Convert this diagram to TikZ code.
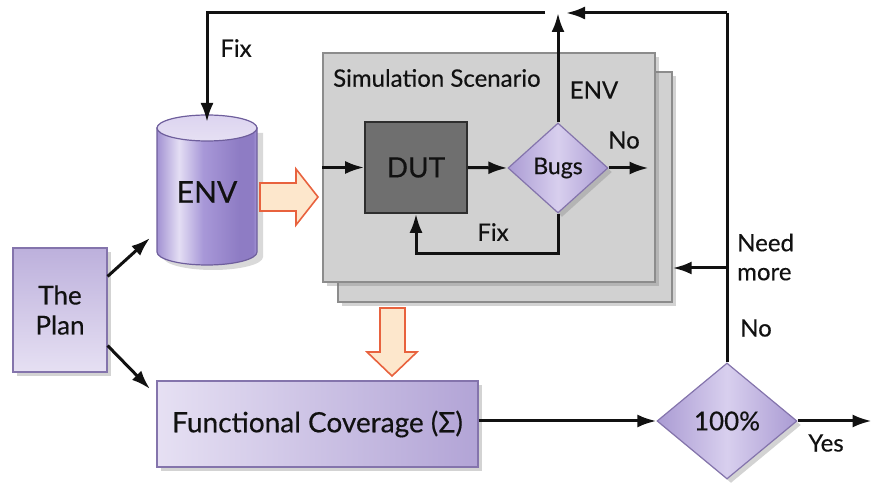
\documentclass[tikz,border=0pt]{standalone}
\usepackage{fontspec}
\setmainfont{Lato}[FakeBold=0.4]
\usetikzlibrary{shapes.geometric,arrows.meta,shadows,calc}

\definecolor{lavLight}{HTML}{E6E0F3}
\definecolor{lavDark}{HTML}{B2A4D6}
\definecolor{lavEdge}{HTML}{8474AC}
\definecolor{diaLight}{HTML}{D8CFEE}
\definecolor{diaDark}{HTML}{AA9BD3}
\definecolor{simFill}{HTML}{D1D1D1}
\definecolor{simEdge}{HTML}{8C8C8C}
\definecolor{dutFill}{HTML}{6F6F6F}
\definecolor{dutEdge}{HTML}{2E2E2E}
\definecolor{peach}{HTML}{FDE7CC}
\definecolor{peachEdge}{HTML}{E8623E}
\definecolor{cylA}{HTML}{A291D2}
\definecolor{cylB}{HTML}{E4DEF4}
\definecolor{cylC}{HTML}{A898D8}
\definecolor{cylD}{HTML}{8E7CC4}
\definecolor{cylTop}{HTML}{DCD4F0}
\definecolor{cylEdge}{HTML}{6E5E9C}
\definecolor{ink}{HTML}{111111}

% horizontal shading for the cylinder body (path spans 25bp..75bp)
\pgfdeclarehorizontalshading{cylshade}{100bp}{
  color(0bp)=(cylA); color(25bp)=(cylA); color(36bp)=(cylB);
  color(48bp)=(cylC); color(66bp)=(cylD); color(73bp)=(cylD);
  color(75bp)=(cylC); color(100bp)=(cylC)}

\tikzset{
  lbl/.style={font=\fontsize{24}{26}\selectfont, text=ink, inner sep=0pt},
  arr/.style={draw=ink, line width=3pt, -{Latex[length=19pt,width=13pt]}},
  plain/.style={draw=ink, line width=3pt},
  shade/.style={drop shadow={opacity=0.35, shadow xshift=4pt, shadow yshift=-4pt}},
  purplebox/.style={draw=lavEdge, line width=1.2pt, left color=lavLight, right color=lavDark,
    inner sep=0pt, text=ink, shade},
  simbox/.style={draw=simEdge, line width=1.4pt, fill=simFill, inner sep=0pt, shade},
  decision/.style={diamond, draw=lavEdge, line width=1.2pt, inner sep=0pt, text=ink,
    left color=diaDark, right color=diaDark, middle color=diaLight, shade},
  blockarrow/.style={draw=peachEdge, line width=1.6pt, fill=peach, line join=miter},
}

\begin{document}
\begin{tikzpicture}[x=1pt, y=-1pt]
\useasboundingbox (0,0) rectangle (871,486);

% simulation scenario stack
\node[simbox, minimum width=334pt, minimum height=230pt] (back) at (505,187) {};
\node[simbox, minimum width=332pt, minimum height=229pt] (scen) at (489,167.5) {};
\node[lbl, anchor=west] (simtitle) at (333,78) {Simulation Scenario};
\node[lbl] (envlbl) at (594,90) {ENV};

% device under test and bug check
\node[draw=dutEdge, line width=1.6pt, fill=dutFill, minimum width=102pt, minimum height=91pt,
  inner sep=0pt, text=ink, font=\fontsize{28}{30}\selectfont] (dut) at (416,167.5) {DUT};
\node[decision, minimum width=100pt, minimum height=90pt, font=\fontsize{23}{25}\selectfont]
  (bugs) at (558,168) {Bugs};

% environment cylinder
\path[shading=cylshade, draw=cylEdge, line width=1.2pt,
  drop shadow={opacity=0.3, shadow xshift=6pt, shadow yshift=-5pt}]
  (157,128) -- (157,252) arc[start angle=180, end angle=0, x radius=50, y radius=13]
  -- (257,128) -- cycle;
\draw[cylEdge, line width=1.2pt, top color=cylTop, bottom color=lavLight]
  (207,128) ellipse [x radius=50, y radius=13];
\node[font=\fontsize{30}{32}\selectfont, text=ink, minimum width=100pt, minimum height=150pt,
  inner sep=0pt] (env) at (207,192) {ENV};
\coordinate (envtop) at (207,122);

% plan, coverage, completion check
\node[purplebox, minimum width=94pt, minimum height=124pt, align=center,
  top color=lavDark!80!lavLight, bottom color=lavLight, font=\fontsize{26}{30}\selectfont]
  (plan) at (60,310) {The\\Plan};
\node[purplebox, minimum width=321pt, minimum height=86pt, font=\fontsize{28}{30}\selectfont]
  (fc) at (317.5,424) {Functional Coverage (Σ)};
\node[decision, minimum width=140pt, minimum height=116pt, font=\fontsize{26}{28}\selectfont]
  (pct) at (727,421) {100\%};

% block arrows
\draw[blockarrow] (260,183) -- (296,183) -- (296,169) -- (318,197) -- (296,225)
  -- (296,211) -- (260,211) -- cycle;
\draw[blockarrow] (380,308) -- (405,308) -- (405,352) -- (417,352) -- (392,376)
  -- (367,352) -- (380,352) -- cycle;

% connectors
\coordinate (tl) at (545,13);
\coordinate (tr) at (727,13);
\coordinate (trin) at (566,13);
\coordinate (nm) at (727,268);
\draw[arr] (tl) -| (envtop);
\draw[arr] (bugs.north) -- (bugs.north |- tl);
\draw[plain] (pct.north) -- (tr);
\draw[arr] (tr) -- (trin);
\draw[arr] (nm) -- (nm -| back.east);
\draw[arr] (scen.west |- dut.west) -- (dut.west);
\draw[arr] (dut.east) -- (bugs.west);
\draw[arr] (bugs.east) -- ++(40,0);
\draw[arr] (bugs.south) |- ($(dut.south)+(0,40)$) -- (dut.south);
\draw[arr] ($(plan.north east)+(0,29)$) -- (150,238);
\draw[arr] ($(plan.south east)+(0,-27)$) -- (150,389);
\draw[arr] (fc.east |- pct.west) -- (pct.west);
\draw[arr] (pct.east) -- ++(74,0);

% labels
\node[lbl] (fixtop) at (236,48) {Fix};
\node[lbl] (fixin) at (493,232) {Fix};
\node[lbl] (noin) at (624,140) {No};
\node[lbl, anchor=west, align=left, font=\fontsize{24}{29}\selectfont] (need) at (737,257) {Need\\more};
\node[lbl] (noout) at (756,328) {No};
\node[lbl] (yes) at (826,443) {Yes};
\end{tikzpicture}
\end{document}
